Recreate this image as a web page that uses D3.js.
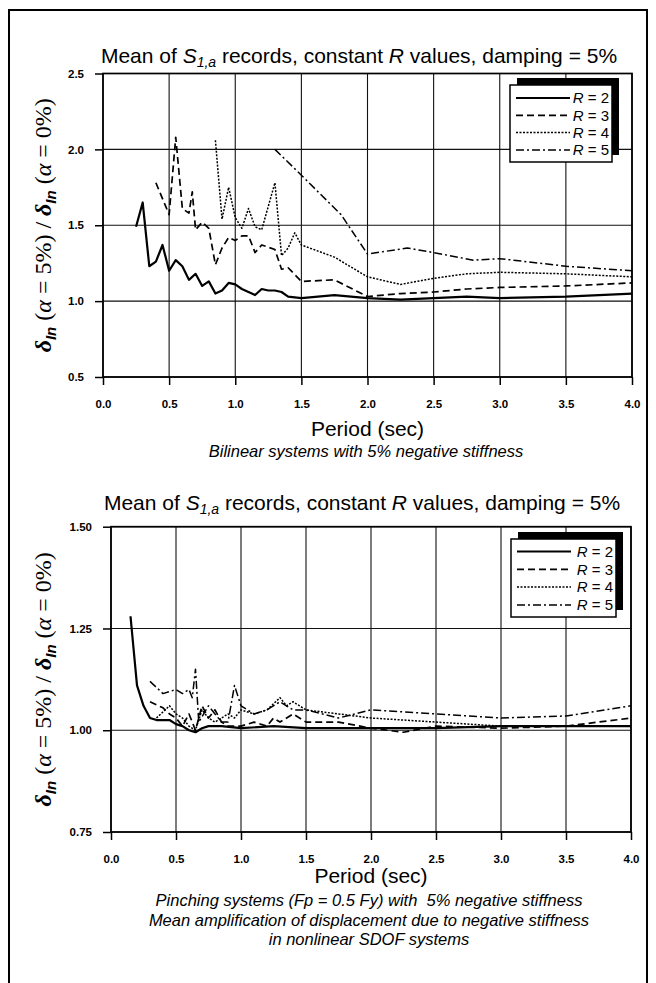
<!DOCTYPE html>
<html>
<head>
<meta charset="utf-8">
<script src="https://cdn.jsdelivr.net/npm/d3@7"></script>
<style>
  body { margin: 0; background: #fff; }
  text { font-family: "Liberation Sans", Arial, sans-serif; fill: #000; }
  .tick text { font-weight: bold; font-size: 11.5px; }
  .grid line { stroke: #111; stroke-width: 1.1; }
</style>
</head>
<body>
<script>
// Mean amplification of displacement

var xTicks = [0, 0.5, 1.0, 1.5, 2.0, 2.5, 3.0, 3.5, 4.0];
var yTicksTop = [0.5, 1.0, 1.5, 2.0, 2.5];
var yTicksBottom = [0.75, 1.00, 1.25, 1.50];
var rValues = [2, 3, 4, 5];

// bilinear systems, 5% negative stiffness
var bilinR2 = [[0.25,1.49],[0.30,1.65],[0.35,1.23],[0.40,1.26],[0.45,1.37],[0.50,1.20],[0.55,1.27],[0.60,1.23],[0.65,1.14],[0.70,1.18],[0.75,1.10],[0.80,1.13],[0.85,1.05],[0.90,1.07],[0.95,1.12],[1.00,1.11],[1.05,1.08],[1.10,1.06],[1.15,1.04],[1.20,1.08],[1.25,1.07],[1.30,1.07],[1.35,1.06],[1.40,1.03],[1.50,1.02],[1.75,1.04],[2.00,1.02],[2.25,1.01],[2.50,1.02],[2.75,1.03],[3.00,1.02],[3.50,1.03],[4.00,1.05]];
var bilinR3 = [[0.40,1.78],[0.50,1.57],[0.55,2.08],[0.60,1.61],[0.65,1.58],[0.675,1.72],[0.70,1.47],[0.75,1.52],[0.80,1.48],[0.85,1.24],[0.90,1.35],[0.95,1.42],[1.00,1.40],[1.05,1.43],[1.10,1.43],[1.15,1.32],[1.20,1.37],[1.30,1.34],[1.35,1.21],[1.40,1.22],[1.50,1.13],[1.75,1.14],[2.00,1.03],[2.25,1.05],[2.50,1.06],[2.75,1.08],[3.00,1.09],[3.50,1.10],[4.00,1.12]];
var bilinR4 = [[0.85,2.06],[0.90,1.54],[0.95,1.75],[1.00,1.55],[1.05,1.48],[1.10,1.61],[1.15,1.49],[1.20,1.47],[1.30,1.78],[1.35,1.30],[1.40,1.35],[1.45,1.45],[1.50,1.37],[1.75,1.29],[2.00,1.16],[2.25,1.11],[2.50,1.15],[2.75,1.18],[3.00,1.19],[3.50,1.18],[4.00,1.16]];
var bilinR5 = [[1.30,2.00],[1.50,1.83],[1.80,1.57],[2.00,1.31],[2.30,1.35],[2.50,1.32],[2.80,1.27],[3.00,1.28],[3.50,1.23],[4.00,1.20]];

// pinching systems (Fp = 0.5 Fy), 5% negative stiffness
var pinchR2 = [[0.15,1.28],[0.20,1.11],[0.25,1.06],[0.30,1.03],[0.35,1.025],[0.40,1.025],[0.45,1.025],[0.50,1.015],[0.55,1.01],[0.60,1.00],[0.65,0.995],[0.70,1.005],[0.75,1.01],[0.85,1.01],[1.00,1.005],[1.25,1.01],[1.50,1.005],[2.00,1.005],[2.50,1.005],[3.00,1.01],[3.50,1.01],[4.00,1.01]];
var pinchR3 = [[0.30,1.07],[0.40,1.055],[0.45,1.04],[0.50,1.03],[0.55,1.01],[0.60,1.04],[0.65,1.00],[0.70,1.06],[0.75,1.03],[0.80,1.05],[0.85,1.02],[0.90,1.01],[1.00,1.01],[1.10,1.02],[1.20,1.01],[1.25,1.03],[1.30,1.02],[1.40,1.04],[1.50,1.02],[1.75,1.02],[2.00,1.005],[2.25,0.995],[2.50,1.01],[3.00,1.005],[3.50,1.01],[4.00,1.03]];
var pinchR4 = [[0.35,1.03],[0.45,1.06],[0.50,1.04],[0.55,1.03],[0.60,1.01],[0.65,1.00],[0.70,1.05],[0.75,1.03],[0.80,1.02],[0.90,1.04],[0.95,1.03],[1.00,1.05],[1.10,1.04],[1.20,1.05],[1.30,1.08],[1.35,1.06],[1.40,1.07],[1.50,1.05],[1.75,1.04],[2.00,1.03],[2.50,1.02],[3.00,1.01],[3.50,1.01],[4.00,1.01]];
var pinchR5 = [[0.30,1.12],[0.40,1.09],[0.50,1.10],[0.55,1.09],[0.60,1.10],[0.625,1.08],[0.65,1.15],[0.675,1.02],[0.75,1.06],[0.80,1.04],[0.85,1.02],[0.90,1.02],[0.95,1.11],[1.00,1.06],[1.10,1.04],[1.20,1.05],[1.30,1.07],[1.40,1.05],[1.50,1.05],[1.75,1.03],[2.00,1.05],[2.50,1.04],[3.00,1.03],[3.50,1.035],[4.00,1.06]];

// line style per R value
var dashes = ["none", "7,4", "2,1.5", "8,3,2,3"];
var widths = [2.2, 1.7, 1.5, 1.5];

var svg = d3.select("body").append("svg")
    .attr("width", 656)
    .attr("height", 983);

// outer frame
svg.append("rect")
    .attr("x", 9).attr("y", 10)
    .attr("width", 638).attr("height", 1000)
    .attr("fill", "none")
    .attr("stroke", "#000")
    .attr("stroke-width", 2);

function genChart(cfg) {
  var x = d3.scaleLinear().domain([0, 4]).range([cfg.left, cfg.right]);
  var y = d3.scaleLinear().domain(cfg.yDomain).range([cfg.bottom, cfg.top]);
  var g = svg.append("g");

  // grid
  var grid = g.append("g").attr("class", "grid");
  grid.selectAll("line.v")
      .data(xTicks)
    .enter().append("line")
      .attr("x1", function(d) { return x(d); })
      .attr("x2", function(d) { return x(d); })
      .attr("y1", cfg.top).attr("y2", cfg.bottom);
  grid.selectAll("line.h")
      .data(cfg.yTicks)
    .enter().append("line")
      .attr("x1", cfg.left).attr("x2", cfg.right)
      .attr("y1", function(d) { return y(d); })
      .attr("y2", function(d) { return y(d); });

  // border
  g.append("rect")
      .attr("x", cfg.left).attr("y", cfg.top)
      .attr("width", cfg.right - cfg.left)
      .attr("height", cfg.bottom - cfg.top)
      .attr("fill", "none")
      .attr("stroke", "#000")
      .attr("stroke-width", 1.7);

  // axes
  var xa = g.append("g")
      .attr("transform", "translate(0," + cfg.bottom + ")")
      .call(d3.axisBottom(x).tickValues(xTicks).tickFormat(d3.format(".1f"))
        .tickSize(8).tickPadding(15));
  xa.select(".domain").remove();
  xa.selectAll(".tick line").attr("stroke-width", 1.5);

  var ya = g.append("g")
      .attr("transform", "translate(" + cfg.left + ",0)")
      .call(d3.axisLeft(y).tickValues(cfg.yTicks).tickFormat(d3.format(cfg.yFormat))
        .tickSize(8).tickPadding(11));
  ya.select(".domain").remove();
  ya.selectAll(".tick line").attr("stroke-width", 1.5);

  // series
  var line = d3.line()
      .x(function(d) { return x(d[0]); })
      .y(function(d) { return y(d[1]); });

  g.selectAll("path.series")
      .data(cfg.series)
    .enter().append("path")
      .attr("class", "series")
      .attr("d", line)
      .attr("fill", "none")
      .attr("stroke", "#000")
      .attr("stroke-width", function(d, i) { return widths[i]; })
      .attr("stroke-dasharray", function(d, i) { return dashes[i]; })
      .attr("stroke-linejoin", "round");

  // title
  var t = g.append("text")
      .attr("x", cfg.titleX)
      .attr("y", cfg.titleY)
      .attr("text-anchor", "middle")
      .style("font-size", "21px");
  t.append("tspan").text("Mean of ");
  t.append("tspan").style("font-style", "italic").text("S");
  t.append("tspan").style("font-style", "italic").style("font-size", "14px")
      .attr("dy", 4).text("1,a");
  t.append("tspan").attr("dy", -4).text(" records, constant ");
  t.append("tspan").style("font-style", "italic").text("R");
  t.append("tspan").text(" values, damping = 5%");

  // y label
  var yl = g.append("text")
      .attr("transform", "translate(" + cfg.yLabelX + "," + ((cfg.top + cfg.bottom) / 2) + ") rotate(-90)")
      .attr("text-anchor", "middle")
      .style("font-family", "'Liberation Serif', 'Times New Roman', serif")
      .style("font-size", "24px");
  [" (\u03b1 = 5%) / ", " (\u03b1 = 0%)"].forEach(function(s) {
    yl.append("tspan").style("font-style", "italic").style("font-weight", "bold").text("\u03b4");
    yl.append("tspan")
        .style("font-family", "'Liberation Sans', Arial, sans-serif")
        .style("font-style", "italic").style("font-weight", "bold")
        .style("font-size", "15px").attr("dy", 5).text("In");
    var p = yl.append("tspan").attr("dy", -5);
    p.append("tspan").text(s.slice(0, 2));
    p.append("tspan").style("font-style", "italic").text("\u03b1");
    p.append("tspan").text(s.slice(3));
  });

  // x label and captions
  g.append("text")
      .attr("x", (cfg.left + cfg.right) / 2)
      .attr("y", cfg.periodY)
      .attr("text-anchor", "middle")
      .style("font-size", "21px")
      .text("Period (sec)");
  g.selectAll("text.caption")
      .data(cfg.captions)
    .enter().append("text")
      .attr("class", "caption")
      .attr("x", cfg.captionX)
      .attr("y", function(d, i) { return cfg.captionY + i * 19.5; })
      .attr("text-anchor", "middle")
      .style("font-size", "16.5px")
      .style("font-style", "italic")
      .text(function(d) { return d; });

  // legend with black drop shadow to the upper right
  var lg = g.append("g").attr("transform", "translate(" + cfg.legend[0] + "," + cfg.legend[1] + ")");
  var lw = cfg.legend[2], lh = cfg.legend[3];
  lg.append("rect").attr("x", 7).attr("y", -7).attr("width", lw).attr("height", lh).attr("fill", "#000");
  lg.append("rect").attr("width", lw).attr("height", lh)
      .attr("fill", "#fff").attr("stroke", "#000").attr("stroke-width", 1.5);
  var rows = lg.selectAll("g.row")
      .data(rValues)
    .enter().append("g")
      .attr("class", "row")
      .attr("transform", function(d, i) { return "translate(0," + (cfg.legendRow0 + i * cfg.legendStep) + ")"; });
  rows.append("line")
      .attr("x1", 6).attr("x2", 60)
      .attr("stroke", "#000")
      .attr("stroke-width", function(d, i) { return widths[i]; })
      .attr("stroke-dasharray", function(d, i) { return dashes[i]; });
  var lt = rows.append("text")
      .attr("x", lw - 3)
      .attr("dy", "0.35em")
      .attr("text-anchor", "end")
      .style("font-size", "15px");
  lt.append("tspan").style("font-style", "italic").text("R");
  lt.append("tspan").text(function(d) { return " = " + d; });
}

genChart({
  left: 103, right: 632, top: 73.5, bottom: 377,
  yDomain: [0.5, 2.5], yTicks: yTicksTop, yFormat: ".1f",
  series: [bilinR2, bilinR3, bilinR4, bilinR5],
  titleX: 359, titleY: 63, yLabelX: 51,
  periodY: 436, captionY: 457, captionX: 366,
  captions: ["Bilinear systems with 5% negative stiffness"],
  legend: [510, 85, 102, 77], legendRow0: 13, legendStep: 17.3
});

genChart({
  left: 111, right: 631, top: 526.7, bottom: 832,
  yDomain: [0.75, 1.5], yTicks: yTicksBottom, yFormat: ".2f",
  series: [pinchR2, pinchR3, pinchR4, pinchR5],
  titleX: 362, titleY: 510, yLabelX: 51,
  periodY: 883, captionY: 906, captionX: 369,
  captions: ["Pinching systems (Fp = 0.5 Fy) with\u00a0 5% negative stiffness",
             "Mean amplification of displacement due to negative stiffness",
             "in nonlinear SDOF systems"],
  legend: [511, 539, 105, 78], legendRow0: 12.5, legendStep: 17.8
});
</script>
</body>
</html>
